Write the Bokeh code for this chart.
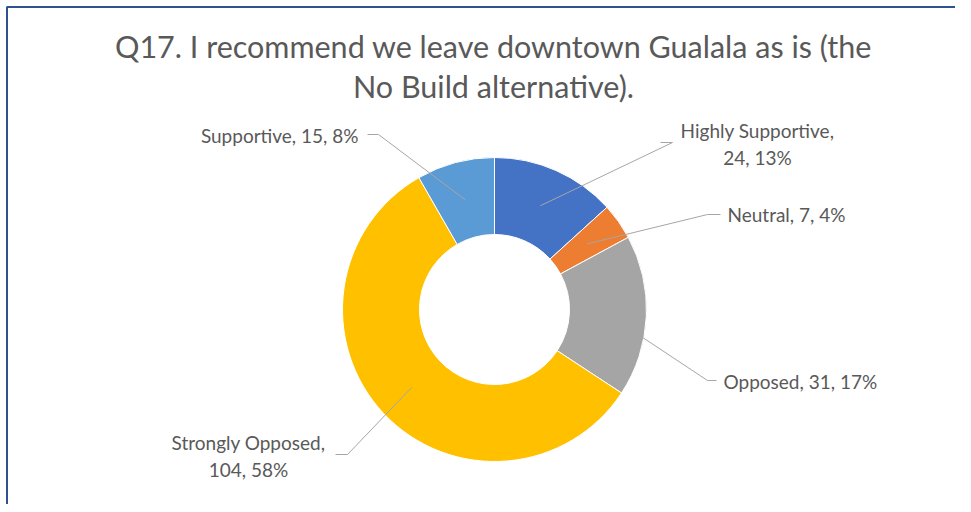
import numpy as np
from bokeh.plotting import figure
from bokeh.models import Range1d
from bokeh.embed import file_html
from bokeh.resources import INLINE
from bokeh.core.properties import value

# ---- data ----
categories = ["Highly Supportive", "Neutral", "Opposed", "Strongly Opposed", "Supportive"]
counts = [24, 7, 31, 104, 15]
percents = [13, 4, 17, 58, 8]
colors = ["#4472C4", "#ED7D31", "#A5A5A5", "#FFC000", "#5B9BD5"]
title_lines = ["Q17. I recommend we leave downtown Gualala as is (the",
               "No Build alternative)."]

# ---- layout ----
W, H = 955, 504
FONT = "Lato"
TXT = "#595959"
OX, OY = 0, 0


def sx(X):
    return X - OX


def sy(Y):
    return H - (Y - OY)


p = figure(width=W, height=H, x_range=Range1d(0, W), y_range=Range1d(0, H),
           output_backend="svg", toolbar_location=None, min_border=0,
           outline_line_color=None)
p.axis.visible = False
p.grid.visible = False
p.background_fill_color = "white"
p.border_fill_color = "white"

# chart border (left & top visible in view)
p.line(x=[sx(6.5), sx(6.5), W], y=[0, sy(6.5), sy(6.5)], line_color="#2F528F", line_width=2)

cx, cy = sx(494), sy(309)
R_out, R_in = 152, 75

frac = np.array(counts, dtype=float) / sum(counts)
cum = np.concatenate([[0.0], np.cumsum(frac)])
start = np.pi / 2 - 2 * np.pi * cum[:-1]
end = np.pi / 2 - 2 * np.pi * cum[1:]

p.annular_wedge(x=cx, y=cy, inner_radius=R_in, outer_radius=R_out,
                inner_radius_units="screen", outer_radius_units="screen",
                start_angle=start, end_angle=end, direction="clock",
                fill_color=colors, line_color="white", line_width=1)

# title
p.text(x=[sx(493)] * 2, y=[sy(45), sy(85)], text=title_lines,
       text_font=value(FONT), text_font_size="30.5px", text_color=TXT,
       text_align="center", text_baseline="middle")

# leader lines
mid = (start + end) / 2
rm = (R_in + R_out) / 2
mx = cx + rm * np.cos(mid)
my = cy + rm * np.sin(mid)
elbows = [(672, 142), (707, 214), (707, 380), (347, 454), (378, 134)]
ends = [(660, 142), (720, 214), (716, 380), (335, 454), (367, 134)]
for i in range(len(categories)):
    p.line(x=[mx[i], sx(elbows[i][0]), sx(ends[i][0])],
           y=[my[i], sy(elbows[i][1]), sy(ends[i][1])],
           line_color="#A6A6A6", line_width=1)

# data labels
lbl_font = dict(text_font=value(FONT), text_font_size="19px", text_color=TXT,
                text_baseline="middle")
one = [f"{c}, {v}, {q}%" for c, v, q in zip(categories, counts, percents)]
two = [(f"{c},", f"{v}, {q}%") for c, v, q in zip(categories, counts, percents)]

# Highly Supportive (two lines, centered)
p.text(x=[sx(757)] * 2, y=[sy(130), sy(157)], text=list(two[0]), text_align="center", **lbl_font)
# Neutral
p.text(x=[sx(727)], y=[sy(214)], text=[one[1]], text_align="left", **lbl_font)
# Opposed
p.text(x=[sx(723)], y=[sy(381)], text=[one[2]], text_align="left", **lbl_font)
# Strongly Opposed (two lines, centered)
p.text(x=[sx(248)] * 2, y=[sy(442), sy(469)], text=list(two[3]), text_align="center", **lbl_font)
# Supportive
p.text(x=[sx(358)], y=[sy(135)], text=[one[4]], text_align="right", **lbl_font)

open("out.html", "w").write(file_html(p, INLINE))
